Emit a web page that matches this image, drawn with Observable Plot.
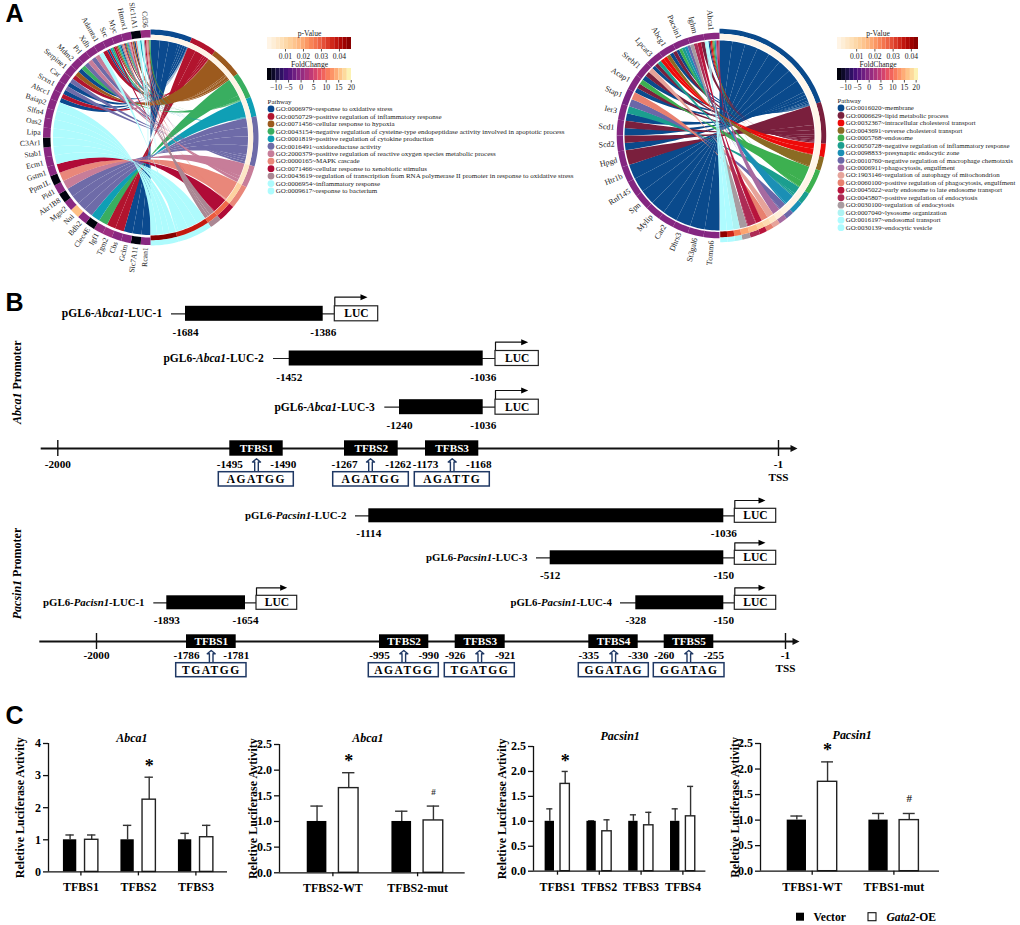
<!DOCTYPE html>
<html><head><meta charset="utf-8">
<script src="https://cdn.jsdelivr.net/npm/d3@7"></script>
<script src="https://cdn.jsdelivr.net/npm/@observablehq/plot@0.6"></script>
<style>
html,body{margin:0;padding:0;background:#fff}
#root{position:relative;width:1020px;height:925px;overflow:hidden}
#root svg{position:absolute;background:transparent;overflow:visible}
</style></head><body><div id="root"></div>
<script>
const SERIF = "Liberation Serif";

/* ---------- Panel A, left chord ---------- */
const goTermsA = ["GO:0006979~response to oxidative stress","GO:0050729~positive regulation of inflammatory response","GO:0071456~cellular response to hypoxia","GO:0043154~negative regulation of cysteine-type endopeptidase activity involved in apoptotic process","GO:0001819~positive regulation of cytokine production","GO:0016491~oxidoreductase activity","GO:2000379~positive regulation of reactive oxygen species metabolic process","GO:0000165~MAPK cascade","GO:0071466~cellular response to xenobiotic stimulus","GO:0043619~regulation of transcription from RNA polymerase II promoter in response to oxidative stress","GO:0006954~inflammatory response","GO:0009617~response to bacterium"];
const termColorsA = ["#0B4A8F","#B2142E","#9C5A1E","#39AE60","#0F9FB5","#6E6BA8","#C77D99","#E9877A","#B00B37","#AA8793","#AEFBFD","#AEFBFD"];
const termSpanA = [22.5,14.2,17.1,14.2,10.6,27,11.8,12.6,9.5,6.5,19,15];
const termPvalA = [0.0004,0.0006,0.0008,0.001,0.0012,0.002,0.006,0.012,0.029,0.031,0.039,0.047];
const genesA = ["Rcan1","Slc7A11","Gclm","Cbs","Tgm2","Igf1","Clec4E","Bdh2","Nui","Mgst2","Akr1B8","Pid1","Ppm1L","Gstm1","Ecm1","Stab1","C3Ar1","Lipa","Oas2","Slfn4","Baiap2","Abcc1","Srxn1","Car","Serpine1","Mdm2","Prl","Xdh","Adamts1","Src","Myc","Hmox1","Slc11A1","Cd36"];
const geneFoldA = [0,-12.5,0,0,1.5,1,-12.5,0,16,0,-12.5,0,-12.5,0,0,0,-12.5,0,0,0,0,0,0,0,0,0,0,0,0,0,0,0,-12.5,1];
const geneTermsA = [[0],[0],[0],[1],[1],[3],[4],[5],[5],[5],[5],[6],[7],[8],[10],[10],[10],[11],[11],[11],[11],[0,1],[0,5],[0,5],[1,2],[0,3],[5,6],[5,6],[10,1],[0,1,4,3,8],[1,2,3,4,0,9,7],[1,0,2,3,4,5,6,7,8,9],[2,0,7,10,11,4],[10,11,9,8,7,6,2,3]];

/* ---------- Panel A, right chord ---------- */
const goTermsB = ["GO:0016020~membrane","GO:0006629~lipid metabolic process","GO:0032367~intracellular cholesterol transport","GO:0043691~reverse cholesterol transport","GO:0005768~endosome","GO:0050728~negative regulation of inflammatory response","GO:0098833~presynaptic endocytic zone","GO:0010760~negative regulation of macrophage chemotaxis","GO:0006911~phagocytosis, engulfment","GO:1903146~regulation of autophagy of mitochondrion","GO:0060100~positive regulation of phagocytosis, engulfment","GO:0045022~early endosome to late endosome transport","GO:0045807~positive regulation of endocytosis","GO:0030100~regulation of endocytosis","GO:0007040~lysosome organization","GO:0016197~endosomal transport","GO:0030139~endocytic vesicle"];
const termColorsB = ["#0A4A8C","#7A1F3D","#EE0A0A","#8B6B23","#3DB050","#1B9E8F","#1B8FB5","#6B67A8","#A66AA0","#E6A39A","#E8806F","#B8143C","#AD2B55","#A89BA0","#AEF3F3","#AEFBFF","#AEFBFF"];
const termSpanB = [71.7,22.8,7.2,7.6,13.7,6.6,6.8,4.6,4.6,4,4,4,5.4,4.6,4,4,4];
const termPvalB = [0.0002,0.0003,0.0004,0.0005,0.0006,0.0008,0.001,0.0015,0.003,0.006,0.009,0.012,0.016,0.02,0.026,0.036,0.044];
const genesB = ["Tomm6","St3gal6","Dhrs3","Car2","Mylip","Spn","Rnf145","Htr1b","Hpgd","Scd2","Scd1","Ier3","Stap1","Acap1","Srebf1","Lpcat3","Abcg1","Pacsin1","Ighm","Abca1"];
const geneFoldB = [-0.5,-0.5,-0.5,-0.5,-0.5,-0.5,-0.5,-0.5,-0.5,-0.5,-0.5,-0.5,-1.5,-0.5,-0.5,-0.5,-0.5,-0.5,-0.2,0];
const geneTermsB = [[0],[0],[0],[0],[0],[0],[0],[0],[1],[0,1],[0,1],[0,5],[7,10],[0,1,4],[0,1,9],[0,1,5,2],[2,3,0,1],[0,4,5,6,7],[13,12,11,1],[14,15,16,0,1,2,3,4,6,8,11,12]];

/* ---------- Panel B ---------- */
const abcaNames = ["pGL6-*Abca1*-LUC-1","pGL6-*Abca1*-LUC-2","pGL6-*Abca1*-LUC-3"];
const abcaFrom = ["-1684","-1452","-1240"];
const abcaTo = ["-1386","-1036","-1036"];
const abcaSites = ["TFBS1","TFBS2","TFBS3"];
const abcaSiteFrom = ["-1495","-1267","-1173"];
const abcaSiteTo = ["-1490","-1262","-1168"];
const abcaMotifs = ["AGATGG","AGATGG","AGATTG"];
const pacsinNames = ["pGL6-*Pacisn1*-LUC-1","pGL6-*Pacsin1*-LUC-2","pGL6-*Pacsin1*-LUC-3","pGL6-*Pacsin1*-LUC-4"];
const pacsinFrom = ["-1893","-1114","-512","-328"];
const pacsinTo = ["-1654","-1036","-150","-150"];
const pacsinSites = ["TFBS1","TFBS2","TFBS3","TFBS4","TFBS5"];
const pacsinSiteFrom = ["-1786","-995","-926","-335","-260"];
const pacsinSiteTo = ["-1781","-990","-921","-330","-255"];
const pacsinMotifs = ["TGATGG","AGATGG","TGATGG","GGATAG","GGATAG"];

/* ---------- Panel C ---------- */
const groupsC1 = ["TFBS1","TFBS2","TFBS3"];
const vectorC1 = [1,1,1], vectorTopC1 = [1.15,1.45,1.2], oeC1 = [1,2.25,1.08], oeTopC1 = [1.15,2.95,1.45];
const groupsC2 = ["TFBS2-WT","TFBS2-mut"];
const vectorC2 = [1,1], vectorTopC2 = [1.3,1.2], oeC2 = [1.65,1.02], oeTopC2 = [1.95,1.3];
const groupsC3 = ["TFBS1","TFBS2","TFBS3","TFBS4"];
const vectorC3 = [1,1,1,1], vectorTopC3 = [1.25,1.01,1.13,1.25], oeC3 = [1.75,0.8,0.92,1.1], oeTopC3 = [2.0,1.03,1.18,1.7];
const groupsC4 = ["TFBS1-WT","TFBS1-mut"];
const vectorC4 = [1,1], vectorTopC4 = [1.08,1.13], oeC4 = [1.75,1], oeTopC4 = [2.14,1.13];

const root = document.getElementById("root");
function rich(svg){
  svg.querySelectorAll("text").forEach(t=>{
    if(!t.textContent.includes("*") || t.textContent==="*") return;
    const parts=t.textContent.split("*"); t.textContent="";
    parts.forEach((p,i)=>{ if(!p) return;
      const s=document.createElementNS("http://www.w3.org/2000/svg","tspan");
      s.textContent=p; if(i%2) s.setAttribute("font-style","italic"); t.appendChild(s);});
  });
  svg.querySelectorAll(".seq text, text.seq").forEach(t=>t.style.letterSpacing="1.5px");
  return svg;
}
function place(svg,left,top){ rich(svg); svg.style.left=left+"px"; svg.style.top=top+"px"; root.appendChild(svg); }

/* ---------- chord ---------- */
function polar(a,r){ const t=a*Math.PI/180; return [r*Math.sin(t),-r*Math.cos(t)]; }
function drawChord(c){
  const {genes,fold,geneTerms,spans,pvals,colors,cx,cy,ro,rm,ri,rgo,rgi,rlink,labelSize,pMax}=c;
  const L=150, polys=[], push=(id,fill,pts)=>pts.forEach(p=>polys.push({id,fill,x:p[0],y:p[1]}));
  const arc=(a,b,r)=>{const n=Math.max(2,Math.ceil(Math.abs(b-a)/1.5));return d3.range(n+1).map(i=>polar(a+(b-a)*i/n,r));};
  const ring=(a,b,r0,r1)=>arc(a,b,r1).concat(arc(b,a,r0));
  const bez=(p,q)=>d3.range(31).map(i=>{const u=i/30;return [p[0]*(1-u)*(1-u)+q[0]*u*u,p[1]*(1-u)*(1-u)+q[1]*u*u];});
  const step=180/genes.length, links=[];
  genes.forEach((g,i)=>{const ts=geneTerms[i],w=step/ts.length;
    ts.forEach((t,j)=>links.push({g:i,t,w,ga0:180+i*step+j*w,ga1:180+i*step+(j+1)*w}));});
  let start=0; const termStart=spans.map(s=>{const v=start;start+=s;return v;});
  spans.forEach((s,t)=>{const ls=links.filter(l=>l.t===t),tot=d3.sum(ls,l=>l.w*l.w);let a=termStart[t];
    ls.forEach(l=>{l.ta0=a;a+=s*l.w*l.w/tot;l.ta1=a;});});
  d3.sort(links,l=>l.t).forEach((l,k)=>{
    const pts=[...arc(l.ga0,l.ga1,rlink),...bez(polar(l.ga1,rlink),polar(l.ta1,rlink)),...arc(l.ta1,l.ta0,rlink),...bez(polar(l.ta0,rlink),polar(l.ga0,rlink))];
    push("link"+k,colors[l.t],pts);
  });
  spans.forEach((s,t)=>{
    push("ring"+t,colors[t],ring(termStart[t],termStart[t]+s,rm,ro));
    push("pv"+t,d3.interpolateOrRd(Math.min(1,pvals[t]/pMax)),ring(termStart[t],termStart[t]+s,ri,rm));
  });
  genes.forEach((g,i)=>push("gene"+i,d3.interpolateMagma((fold[i]+13.4)/34),ring(180+i*step,180+(i+1)*step,rgi,rgo)));
  const lab=genes.map((g,i)=>{const a=180+(i+.5)*step,p=polar(a,rgo+2.5);return {g,x:p[0],y:p[1],r:a-270};});
  const svg=Plot.plot({width:2*L,height:2*L,margin:0,inset:0,
    x:{domain:[-L,L],range:[0,2*L],axis:null},y:{domain:[-L,L],range:[0,2*L],axis:null},
    color:{type:"identity"},style:{fontFamily:SERIF},
    marks:[
      Plot.line(polys,{x:"x",y:"y",z:"id",fill:"fill",stroke:"none",curve:"linear-closed"}),
      Plot.text(lab,{x:"x",y:"y",text:"g",rotate:"r",textAnchor:"end",fontSize:labelSize,fill:"#222"})
    ]});
  place(svg,cx-L,cy-L);
}
drawChord({genes:genesA,fold:geneFoldA,geneTerms:geneTermsA,spans:termSpanA,pvals:termPvalA,colors:termColorsA,cx:150,cy:136.5,ro:108,rm:102.7,ri:98,rgo:107.5,rgi:100,rlink:97.5,labelSize:7.6,pMax:0.048});
drawChord({genes:genesB,fold:geneFoldB,geneTerms:geneTermsB,spans:termSpanB,pvals:termPvalB,colors:termColorsB,cx:718.5,cy:134.5,ro:106.7,rm:101.7,ri:96,rgo:102.8,rgi:96.5,rlink:95,labelSize:8,pMax:0.046});

/* ---------- legends ---------- */
function ramp(left,top,w,domain,ticks,interp,title,fmt){
  const n=20, edges=d3.range(n+1).map(i=>domain[0]+(domain[1]-domain[0])*i/n);
  const cells=edges.slice(0,-1).map((e,i)=>({a:e,b:edges[i+1],c:interp((i+.5)/n)}));
  const svg=Plot.plot({width:w,height:34,marginLeft:0,marginRight:0,marginTop:11,marginBottom:11,
    x:{domain,range:[0,w]},y:{domain:[0,1],axis:null},color:{type:"identity"},style:{fontFamily:SERIF,fontSize:"7.6px",color:"#222"},
    marks:[
      Plot.rect(cells,{x1:"a",x2:"b",y1:0,y2:1,fill:"c"}),
      Plot.axisX(ticks,{tickSize:2.5,tickPadding:1.5,tickFormat:fmt,stroke:"#555",fontSize:7.6,fontFamily:SERIF}),
      Plot.text([title],{frameAnchor:"top",dy:-4,fontSize:7.6,fontFamily:SERIF,fill:"#222",lineAnchor:"middle"})
    ]});
  place(svg,left,top);
}
function pathway(left,top,labels,colors,step,sz,txt){
  const rows=labels.map((l,i)=>({l,i,c:colors[i]}));
  const h=step*(labels.length+2);
  const svg=Plot.plot({width:340,height:h,margin:0,
    x:{domain:[0,340],range:[0,340],axis:null},y:{domain:[-1,labels.length+1],range:[0,step*(labels.length+2)],axis:null},
    color:{type:"identity"},
    marks:[
      Plot.dot(rows,{x:()=>3.5,y:"i",r:3.4,fill:"c"}),
      Plot.text(rows,{x:()=>8.2,y:"i",text:"l",textAnchor:"start",fontSize:sz,fontFamily:SERIF,fill:txt}),
      Plot.text(["Pathway"],{x:()=>0,y:()=>-0.95,textAnchor:"start",fontSize:sz,fontFamily:SERIF,fill:txt})
    ]});
  place(svg,left,top);
}
ramp(266.7,25.7,84,[0,0.0467],[0.01,0.02,0.03,0.04],d3.interpolateOrRd,"p-Value",d3.format(".2f"));
ramp(266.7,56.7,84,[-13.4,20.1],[-10,-5,0,5,10,15,20],d3.interpolateMagma,"FoldChange",d=>d<0?"\u2212"+(-d):d);
pathway(266.7,100.9,goTermsA,termColorsA,7.46,7,"#222");
ramp(836.7,26.3,81,[-0.0005,0.0439],[0.01,0.02,0.03,0.04],d3.interpolateOrRd,"p-Value",d3.format(".2f"));
ramp(836.7,57,81,[-13.5,21],[-10,-5,0,5,10,15,20],d3.interpolateMagma,"FoldChange",d=>d<0?"\u2212"+(-d):d);
pathway(836.7,100.3,goTermsB,termColorsB,7.48,6.85,"#222");

/* ---------- overlay: schematic of panel B + panel letters + panel C key ---------- */
const rowsA=[ // layout of the construct rows
 {y:313.3,line:171,r0:185,r1:322.7,b0:334.3,b1:377.7,top:296.7,tip:367,ly:332.3,right:161.7,hh:7.5},
 {y:358,line:273,r0:288.7,r1:482.7,b0:495,b1:538.3,top:341.7,tip:527.7,ly:377.3,right:263.3,hh:7.5},
 {y:406.7,line:384.3,r0:399,r1:482.7,b0:495,b1:538.3,top:390,tip:527.7,ly:425,right:374.3,hh:7.5}];
const rowsP=[
 {y:602.3,line:153.3,r0:166.3,r1:245,b0:256,b1:296.7,top:587.3,tip:286.7,ly:619.7,right:144,hh:7},
 {y:515.3,line:355,r0:368.3,r1:723.3,b0:734.3,b1:775.7,top:500,tip:765,ly:532.7,right:346,hh:7},
 {y:557.3,line:536,r0:549.7,r1:723.3,b0:734.3,b1:775.7,top:542.3,tip:765,ly:574.7,right:527,hh:7},
 {y:602.3,line:620,r0:635.3,r1:723.3,b0:734.3,b1:775.7,top:587.3,tip:765,ly:619.7,right:611.3,hh:7}];
const sitesA=[{x0:229.3,x1:282.7,ax:256,m0:218.3,m1:293.3},{x0:344,x1:397.7,ax:370,m0:332.7,m1:408.3},{x0:425,x1:478.3,ax:451.7,m0:414.3,m1:489.3}];
const sitesP=[{x0:186,x1:235.7,ax:210.7,m0:175.7,m1:246},{x0:379,x1:428.3,ax:403.3,m0:368.3,m1:438.3},{x0:454.7,x1:504.7,ax:479.3,m0:444.3,m1:514.3},{x0:588.3,x1:637.7,ax:613.3,m0:578.3,m1:648.3},{x0:663.7,x1:713.3,ax:688.3,m0:653.3,m1:724}];
const trackA={y:448,x0:40.7,x1:791,head:797,tick0:57.3,tick1:778,hh:8,boxT:440.3,boxB:455.7,ly:463.7,tss:476.7,aTip:458.3,mT:471.7,mB:486};
const trackP={y:641,x0:39.3,x1:793,head:799,tick0:96,tick1:785,hh:8,boxT:634.3,boxB:648,ly:655.3,tss:667.7,aTip:650,mT:662.7,mB:676.7};
const NAVY="#1F3864", INK="#000";
const bt=(o={})=>({fontFamily:SERIF,fontWeight:"bold",fontSize:11.2,fill:INK,...o});
function constructMarks(rows,names,from,to,nameSize){
  const d=rows.map((r,i)=>({...r,name:names[i],from:from[i],to:to[i]}));
  const bent=d.flatMap((r,i)=>[[r.b0,r.y],[r.b0,r.top],[r.tip-6,r.top]].map(p=>({id:i,x:p[0],y:p[1]})));
  const head=d.flatMap((r,i)=>[[r.tip-7,r.top-3],[r.tip,r.top],[r.tip-7,r.top+3]].map(p=>({id:i,x:p[0],y:p[1]})));
  return [
    Plot.ruleY(d,{y:"y",x1:"line",x2:"b0",stroke:"#222",strokeWidth:1.2}),
    Plot.rect(d,{x1:"r0",x2:"r1",y1:r=>r.y-r.hh,y2:r=>r.y+r.hh,fill:"#000"}),
    Plot.line(bent,{x:"x",y:"y",z:"id",stroke:"#111",strokeWidth:1.2,curve:"linear"}),
    Plot.line(head,{x:"x",y:"y",z:"id",fill:"#000",stroke:"none",curve:"linear-closed"}),
    Plot.rect(d,{x1:"b0",x2:"b1",y1:r=>r.y-r.hh,y2:r=>r.y+r.hh,fill:"#fff",stroke:"#222",strokeWidth:1.2}),
    Plot.text(d,{x:r=>(r.b0+r.b1)/2,y:"y",text:()=>"LUC",...bt({fontSize:11.5})}),
    Plot.text(d,{x:"right",y:"y",text:"name",textAnchor:"end",...bt({fontSize:nameSize})}),
    Plot.text(d,{x:"r0",y:"ly",text:"from",...bt()}),
    Plot.text(d,{x:"r1",y:"ly",text:"to",...bt()})
  ];
}
function trackMarks(tr,sites,names,from,to,motifs){
  const d=sites.map((s,i)=>({...s,name:names[i],from:from[i],to:to[i],motif:motifs[i]}));
  const cm=tr.aTip;
  const arrows=d.flatMap((s,i)=>[[-1.8,tr.mT],[-1.8,cm+3.2],[-4,cm+3.2],[0,cm],[4,cm+3.2],[1.8,cm+3.2],[1.8,tr.mT]].map(p=>({id:i,x:s.ax+p[0],y:p[1]})));
  return [
    Plot.ruleY([tr.y],{x1:tr.x0,x2:tr.x1,stroke:"#111",strokeWidth:1.8}),
    Plot.line([[tr.x1-1,tr.y-3.5],[tr.head,tr.y],[tr.x1-1,tr.y+3.5]],{x:"0",y:"1",fill:"#111",stroke:"none",curve:"linear-closed"}),
    Plot.ruleX([tr.tick0,tr.tick1],{y1:tr.y-tr.hh,y2:tr.y+tr.hh,stroke:"#111",strokeWidth:1.4}),
    Plot.rect(d,{x1:"x0",x2:"x1",y1:tr.boxT,y2:tr.boxB,fill:"#000"}),
    Plot.text(d,{x:s=>(s.x0+s.x1)/2,y:(tr.boxT+tr.boxB)/2,text:"name",...bt({fill:"#fff",fontSize:11.2})}),
    Plot.text(d,{x:"x0",y:tr.ly,text:"from",...bt()}),
    Plot.text(d,{x:"x1",y:tr.ly,text:"to",...bt()}),
    Plot.line(arrows,{x:"x",y:"y",z:"id",stroke:NAVY,strokeWidth:1.4,curve:"linear"}),
    Plot.rect(d,{x1:"m0",x2:"m1",y1:tr.mT,y2:tr.mB,fill:"#fff",stroke:NAVY,strokeWidth:1.5}),
    Plot.text(d,{x:s=>(s.m0+s.m1)/2,y:(tr.mT+tr.mB)/2,text:"motif",className:"seq",...bt({fontSize:11.5})}),
    Plot.text(["-2000"],{x:()=>tr.tick0,y:()=>tr.ly,...bt()}),
    Plot.text(["-1"],{x:()=>tr.tick1,y:()=>tr.ly,...bt()}),
    Plot.text(["TSS"],{x:()=>tr.tick1,y:()=>tr.tss,...bt()})
  ];
}
const overlay=Plot.plot({width:1020,height:925,margin:0,x:{domain:[0,1020],range:[0,1020],axis:null},y:{domain:[0,925],range:[0,925],axis:null},
  color:{type:"identity"},
  marks:[
    ...constructMarks(rowsA,abcaNames,abcaFrom,abcaTo,11.5),
    ...trackMarks(trackA,sitesA,abcaSites,abcaSiteFrom,abcaSiteTo,abcaMotifs),
    ...constructMarks(rowsP,pacsinNames,pacsinFrom,pacsinTo,10.8),
    ...trackMarks(trackP,sitesP,pacsinSites,pacsinSiteFrom,pacsinSiteTo,pacsinMotifs),
    Plot.text(["*Abca1* Promoter"],{x:()=>17,y:()=>381.7,rotate:-90,...bt({fontSize:12})}),
    Plot.text(["*Pacsin1* Promoter"],{x:()=>17,y:()=>573,rotate:-90,...bt({fontSize:12})}),
    Plot.text(["A","B","C"],{x:()=>14,y:d=>({A:13,B:302,C:715})[d],fontFamily:"Liberation Sans",fontWeight:"bold",fontSize:25,fill:"#000"}),
    Plot.rect(["Vector"],{x1:()=>796,x2:()=>804,y1:()=>912.7,y2:()=>920.7,fill:"#000"}),
    Plot.rect(["Gata2-OE"],{x1:()=>868,x2:()=>876,y1:()=>912.7,y2:()=>920.7,fill:"#fff",stroke:"#111",strokeWidth:1.1}),
    Plot.text(["Vector"],{x:()=>813,y:()=>916.7,textAnchor:"start",...bt({fontSize:11.6})}),
    Plot.text(["*Gata2*-OE"],{x:()=>886,y:()=>916.7,textAnchor:"start",...bt({fontSize:11.6})})
  ]});
overlay.style.left="0";overlay.style.top="0";rich(overlay);root.appendChild(overlay);

/* ---------- Panel C ---------- */
function barChart(c){
  const {groups,vec,vecTop,oe,oeTop,yMax,ticks,fmt,title,ax0,axEnd,yTop,y0,g0,sp,off,half,titleX,titleY,ylabX,star,hash}=c;
  const mL=50,mT=20,mB=30,mR=5,cap=.073;
  const rows=groups.flatMap((g,i)=>[{i,s:-1,v:vec[i],t:vecTop[i]},{i,s:1,v:oe[i],t:oeTop[i]}]).map(r=>({...r,c:r.i+r.s*off}));
  const unit=(px)=>(px-g0)/sp;
  const svg=Plot.plot({width:mL+(axEnd-ax0)+mR,height:mT+(y0-yTop)+mB,marginLeft:mL,marginRight:mR,marginTop:mT,marginBottom:mB,
    x:{domain:[unit(ax0),unit(axEnd)],axis:null},y:{domain:[0,yMax],axis:null},
    style:{fontFamily:SERIF,fontWeight:"bold",fontSize:"12px",color:"#000"},
    marks:[
      Plot.ruleX(rows,{x:"c",y1:"v",y2:"t",stroke:"#333",strokeWidth:1.4}),
      Plot.ruleY(rows,{y:"t",x1:r=>r.c-cap,x2:r=>r.c+cap,stroke:"#333",strokeWidth:1.4}),
      Plot.rectY(rows.filter(r=>r.s<0),{x1:r=>r.c-half,x2:r=>r.c+half,y1:0,y2:"v",fill:"#000"}),
      Plot.rectY(rows.filter(r=>r.s>0),{x1:r=>r.c-half,x2:r=>r.c+half,y1:0,y2:"v",fill:"#fff",stroke:"#222",strokeWidth:1.4}),
      Plot.ruleY([0],{stroke:"#111",strokeWidth:1.3}),
      Plot.ruleX([unit(ax0)],{y1:0,y2:yMax,stroke:"#111",strokeWidth:1.3}),
      Plot.axisY(ticks,{tickSize:5,tickPadding:2.5,tickFormat:fmt,stroke:"#111",strokeWidth:1.3,label:"Reletive Luciferase Avtivity",labelAnchor:"center",labelArrow:"none",labelOffset:ax0-ylabX+4}),
      Plot.axisX(d3.range(groups.length),{tickSize:4,tickPadding:7,tickFormat:i=>groups[i],stroke:"#111",strokeWidth:1.3,label:null}),
      Plot.text([title],{x:()=>unit(titleX),y:()=>yMax,dy:titleY-yTop,fontStyle:"italic",fontWeight:"bold",fontFamily:SERIF,fontSize:12}),
      Plot.text(star,{x:d=>d.g+off,y:d=>d.v,dy:3,text:()=>"*",fontSize:18,fontFamily:SERIF,fontWeight:"bold"}),
      Plot.text(hash,{x:d=>d.g+off,y:d=>d.v,text:()=>"#",fontSize:d=>d.s||10,fontFamily:SERIF,fontWeight:d=>d.w||"normal",fill:"#333"})
    ]});
  place(svg,ax0-mL,yTop-mT);
}
barChart({groups:groupsC1,vec:vectorC1,vecTop:vectorTopC1,oe:oeC1,oeTop:oeTopC1,yMax:4,ticks:[0,1,2,3,4],fmt:d3.format("d"),title:"Abca1",ax0:48.3,axEnd:227.3,yTop:743.3,y0:871.7,g0:80.7,sp:57.5,off:.188,half:.116,titleX:131.7,titleY:737.7,ylabX:19,star:[{g:1,v:3.39}],hash:[]});
barChart({groups:groupsC2,vec:vectorC2,vecTop:vectorTopC2,oe:oeC2,oeTop:oeTopC2,yMax:2.5,ticks:[0,.5,1,1.5,2,2.5],fmt:d3.format(".1f"),title:"Abca1",ax0:279.3,axEnd:465,yTop:744,y0:872.3,g0:332.7,sp:84.7,off:.187,half:.116,titleX:367.7,titleY:737.5,ylabX:252.7,star:[{g:0,v:2.23}],hash:[{g:1,v:1.58,s:9}]});
barChart({groups:groupsC3,vec:vectorC3,vecTop:vectorTopC3,oe:oeC3,oeTop:oeTopC3,yMax:2.5,ticks:[0,.5,1,1.5,2,2.5],fmt:d3.format(".1f"),title:"Pacsin1",ax0:533.3,axEnd:705.7,yTop:746,y0:870.7,g0:557.3,sp:41.8,off:.184,half:.112,titleX:620,titleY:735.7,ylabX:501,star:[{g:0,v:2.26}],hash:[]});
barChart({groups:groupsC4,vec:vectorC4,vecTop:vectorTopC4,oe:oeC4,oeTop:oeTopC4,yMax:2.5,ticks:[0,.5,1,1.5,2,2.5],fmt:d3.format(".1f"),title:"Pacsin1",ax0:760,axEnd:939,yTop:743.3,y0:871,g0:811.7,sp:81.7,off:.188,half:.118,titleX:851.7,titleY:735,ylabX:734,star:[{g:0,v:2.43}],hash:[{g:1,v:1.43,s:11,w:"bold"}]});
</script></body></html>
